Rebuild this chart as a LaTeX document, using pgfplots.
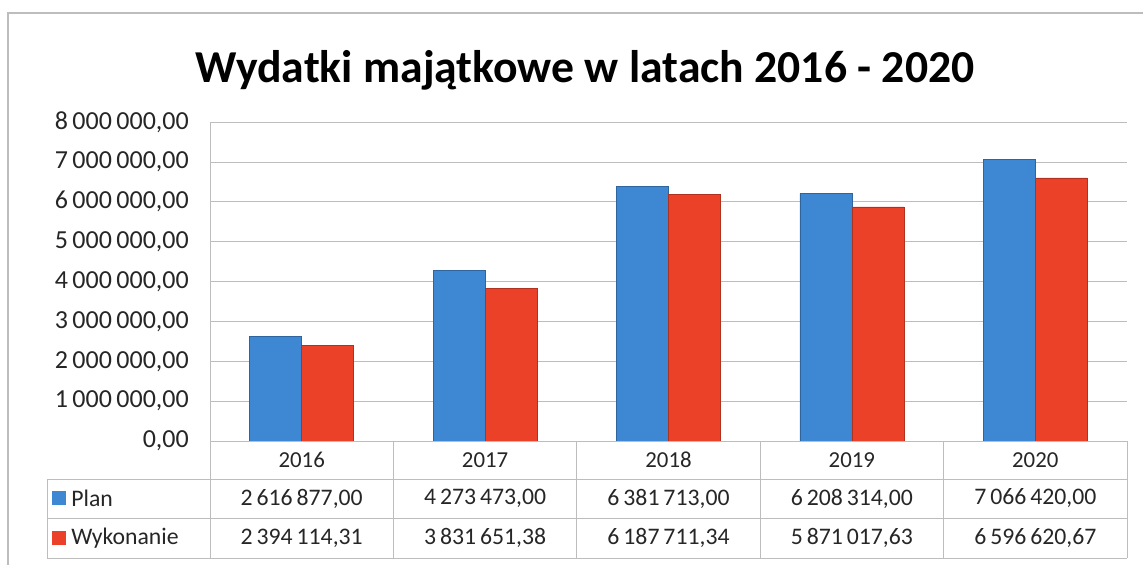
\documentclass[border=0pt]{standalone}
\usepackage{pgfplots}
\pgfplotsset{compat=1.18}
\usepackage{fontspec}
\setmainfont{Carlito}
\definecolor{planblue}{HTML}{3D87D3}
\definecolor{wykred}{HTML}{EB4128}
\definecolor{gridgray}{HTML}{BDBDBD}
\begin{document}
\begin{tikzpicture}
\begin{axis}[
    at={(4.2cm,2.48cm)}, anchor=south west,
    scale only axis, width=18.34cm, height=6.38cm,
    ybar=0pt, bar width=1.04cm,
    xmin=-0.5, xmax=4.5, ymin=0, ymax=8000000,
    axis x line=bottom, axis y line=left,
    axis line style={gridgray, -},
    xtick=data, xticklabels={2016,2017,2018,2019,2020},
    xticklabel style={anchor=center, yshift=-0.38cm, font=\fontsize{13}{15}\selectfont, text=black!85},
    ytick={0,1000000,...,8000000},
    yticklabels={{0,00},{1\,000\,000,00},{2\,000\,000,00},{3\,000\,000,00},{4\,000\,000,00},{5\,000\,000,00},{6\,000\,000,00},{7\,000\,000,00},{8\,000\,000,00}},
    yticklabel style={font=\fontsize{14.8}{16}\selectfont, text=black!85, xshift=-0.3cm},
    major tick length=0pt,
    ymajorgrids, grid style={gridgray},
    scaled y ticks=false,
]
\addplot[fill=planblue, draw=planblue!75!black] coordinates {
    (0,2616877.00) (1,4273473.00) (2,6381713.00) (3,6208314.00) (4,7066420.00)};
\addplot[fill=wykred, draw=wykred!75!black] coordinates {
    (0,2394114.31) (1,3831651.38) (2,6187711.34) (3,5871017.63) (4,6596620.67)};
\end{axis}
% outer frame
\draw[gridgray, line width=0.6pt] (0.16,-0.3) -- (0.16,11.04) -- (23.2,11.04);
% title
\node[font=\fontsize{26}{30}\selectfont\bfseries] at (11.7,9.9) {Wydatki majątkowe w latach 2016 - 2020};
% data table grid
\begin{scope}[gridgray, line width=0.5pt]
\draw (0.94,1.72) -- (22.54,1.72);
\draw (0.94,0.94) -- (22.54,0.94);
\draw (0.94,0.14) -- (22.54,0.14);
\draw (0.94,1.72) -- (0.94,0.14);
\foreach \k in {0,...,5} {\draw ({4.2+3.668*\k},2.48) -- ({4.2+3.668*\k},0.14);}
\end{scope}
% legend keys
\fill[planblue] (1.04,1.19) rectangle (1.32,1.47);
\fill[wykred] (1.04,0.40) rectangle (1.32,0.68);
\begin{scope}[font=\fontsize{13.5}{15}\selectfont, text=black!85]
\node[anchor=west, inner sep=0pt] at (1.42,1.33) {Plan};
\node[anchor=west, inner sep=0pt] at (1.42,0.54) {Wykonanie};
\foreach \v [count=\i from 0] in {{2\,616\,877,00}, {4\,273\,473,00}, {6\,381\,713,00}, {6\,208\,314,00}, {7\,066\,420,00}}
  {\node at ({4.2+3.668*(\i+0.5)},1.33) {\v};}
\foreach \v [count=\i from 0] in {{2\,394\,114,31}, {3\,831\,651,38}, {6\,187\,711,34}, {5\,871\,017,63}, {6\,596\,620,67}}
  {\node at ({4.2+3.668*(\i+0.5)},0.54) {\v};}
\end{scope}
\pgfresetboundingbox
\path[use as bounding box] (0,0) rectangle (22.86,11.3);
\end{tikzpicture}
\end{document}
